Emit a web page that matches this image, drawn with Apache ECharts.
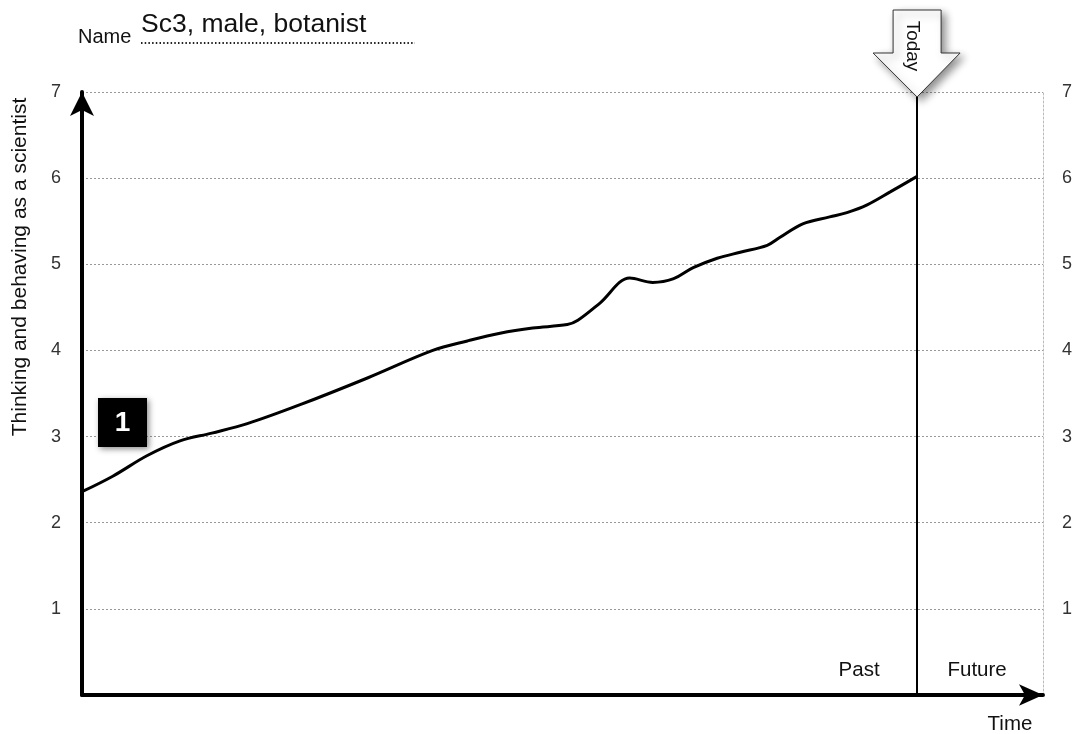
<!DOCTYPE html>
<html>
<head>
<meta charset="utf-8">
<script src="https://cdn.jsdelivr.net/npm/echarts@6/dist/echarts.min.js"></script>
<style>
html,body{margin:0;padding:0;background:#fff;}
#c{width:1075px;height:734px;}
</style>
</head>
<body>
<div id="c"></div>
<script>
// Time position (0 = start of axis, 100 = end of axis)
var timePos = [0, 3.2, 6.8, 10.2, 13.5, 17.2, 22.7, 29.7, 36.5, 40.1, 43.5, 46.9, 50.5, 51.6, 53.9, 57.0, 59.4, 61.5, 63.6, 66.1, 68.5, 71.3, 72.6, 75.0, 77.8, 79.6, 81.7, 84.1, 86.9];
// Thinking and behaving as a scientist
var score = [2.36, 2.54, 2.78, 2.95, 3.04, 3.15, 3.37, 3.68, 4.00, 4.11, 4.20, 4.26, 4.30, 4.35, 4.55, 4.84, 4.79, 4.83, 4.96, 5.07, 5.14, 5.22, 5.31, 5.47, 5.55, 5.60, 5.69, 5.84, 6.02];
var todayPos = 86.9;
var yTicks = [1, 2, 3, 4, 5, 6, 7];
var participant = 'Sc3, male, botanist';
var yTitle = 'Thinking and behaving as a scientist';
var badge = '1';

var FONT = '"Liberation Sans", Arial, Helvetica, sans-serif';
var chart = echarts.init(document.getElementById('c'));

var data = timePos.map(function (t, i) { return [t, score[i]]; });

function labelFmt(v) { return yTicks.indexOf(v) >= 0 ? String(v) : ''; }

chart.setOption({
  animation: false,
  grid: { left: 82, right: 32, top: 92, bottom: 39 },
  xAxis: {
    type: 'value', min: 0, max: 100,
    axisLine: { show: true, symbol: ['none', 'arrow'], symbolSize: [16, 24], lineStyle: { color: '#000', width: 4 } },
    axisTick: { show: false }, axisLabel: { show: false }, splitLine: { show: false }
  },
  yAxis: [{
    type: 'value', min: 0, max: 7, interval: 1, position: 'left',
    axisLine: { show: true, symbol: ['none', 'arrow'], symbolSize: [18, 24], lineStyle: { color: '#000', width: 4 } },
    axisTick: { show: false },
    axisLabel: { formatter: labelFmt, margin: 21, fontSize: 18, color: '#333', fontFamily: FONT },
    splitLine: { show: true, lineStyle: { type: [2, 2], color: '#999', width: 1 } }
  }, {
    type: 'value', min: 0, max: 7, interval: 1, position: 'right',
    axisLine: { show: true, lineStyle: { type: [2, 2], color: '#bbb', width: 1 } },
    axisTick: { show: false },
    axisLabel: { formatter: labelFmt, margin: 19, fontSize: 18, color: '#333', fontFamily: FONT },
    splitLine: { show: false }
  }],
  series: [{
    type: 'line', data: data, smooth: 0.35, symbol: 'none',
    lineStyle: { color: '#000', width: 3 },
    z: 5,
    markLine: {
      silent: true, symbol: ['none', 'none'],
      label: { show: false },
      lineStyle: { color: '#000', width: 2, type: 'solid' },
      data: [{ xAxis: todayPos }]
    }
  }]
});

var tip = chart.convertToPixel({ xAxisIndex: 0, yAxisIndex: 0 }, [todayPos, 7]);
var tx = tip[0];
var xEnd = chart.convertToPixel({ xAxisIndex: 0, yAxisIndex: 0 }, [100, 0]);

chart.setOption({
  graphic: [
    { type: 'text', left: 78, top: 27, style: { text: 'Name', fontSize: 20, fontFamily: FONT, fill: '#111' } },
    { type: 'text', left: 141, top: 11, style: { text: participant, fontSize: 26.5, fontFamily: FONT, fill: '#111' } },
    { type: 'line', shape: { x1: 141, y1: 43, x2: 415, y2: 43 }, style: { stroke: '#222', lineWidth: 1.8, lineDash: [1.5, 2.2] } },
    { type: 'text', x: 20, y: 267, rotation: Math.PI / 2,
      style: { text: yTitle, fontSize: 21, fontFamily: FONT, fill: '#111', align: 'center', verticalAlign: 'middle' } },
    { type: 'rect', shape: { x: 98, y: 398, width: 49, height: 49 },
      style: { fill: '#000', shadowBlur: 6, shadowOffsetX: 2, shadowOffsetY: 2, shadowColor: 'rgba(0,0,0,0.45)' }, z: 10 },
    { type: 'text', x: 122.5, y: 423, z: 11,
      style: { text: badge, fontSize: 28, fontWeight: 'bold', fontFamily: FONT, fill: '#fff', align: 'center', verticalAlign: 'middle' } },
    { type: 'polygon', z: 20,
      shape: { points: [[tx - 24, 10], [tx + 24, 10], [tx + 24, 53], [tx + 43, 53], [tx, 97], [tx - 44, 53], [tx - 24, 53]] },
      style: { fill: '#fff', stroke: '#333', lineWidth: 1, shadowBlur: 8, shadowOffsetX: 4, shadowOffsetY: 4, shadowColor: 'rgba(0,0,0,0.45)' } },
    { type: 'text', x: tx - 5, y: 46, rotation: -Math.PI / 2, z: 21,
      style: { text: 'Today', fontSize: 19, fontFamily: FONT, fill: '#111', align: 'center', verticalAlign: 'middle' } },
    { type: 'text', x: tx - 58, y: 670, style: { text: 'Past', fontSize: 20.5, fontFamily: FONT, fill: '#111', align: 'center', verticalAlign: 'middle' } },
    { type: 'text', x: tx + 60, y: 670, style: { text: 'Future', fontSize: 20.5, fontFamily: FONT, fill: '#111', align: 'center', verticalAlign: 'middle' } },
    { type: 'text', x: xEnd[0] - 33, y: 724, style: { text: 'Time', fontSize: 20.5, fontFamily: FONT, fill: '#111', align: 'center', verticalAlign: 'middle' } }
  ]
});
</script>
</body>
</html>
